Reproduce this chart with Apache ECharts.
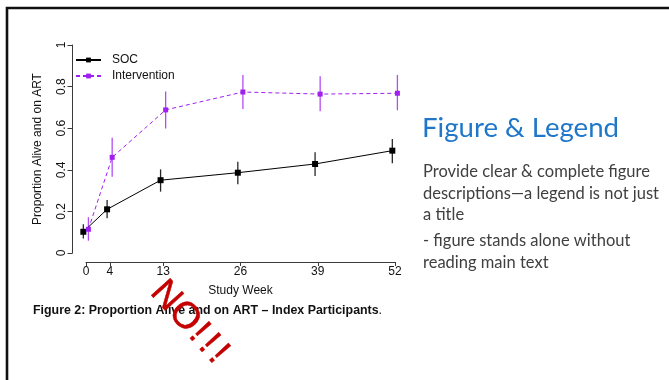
<!DOCTYPE html>
<html>
<head>
<meta charset="utf-8">
<script src="https://cdn.jsdelivr.net/npm/echarts@6/dist/echarts.min.js"></script>
<style>
html,body{margin:0;padding:0;background:#fff;}
#chart{width:669px;height:380px;}
</style>
</head>
<body>
<div id="chart"></div>
<script>
// ---- data ----
const weeks = [0, 4, 13, 26, 39, 52];
const weekTicks = [0, 4, 13, 26, 39, 52];
const yTicks = [0, 0.2, 0.4, 0.6, 0.8, 1];
const socMean = [0.102, 0.210, 0.350, 0.386, 0.428, 0.492];
const socLow  = [0.070, 0.167, 0.295, 0.330, 0.370, 0.431];
const socHigh = [0.138, 0.255, 0.402, 0.439, 0.484, 0.548];
const intMean = [0.114, 0.460, 0.688, 0.774, 0.764, 0.768];
const intLow  = [0.059, 0.367, 0.598, 0.692, 0.681, 0.686];
const intHigh = [0.172, 0.554, 0.777, 0.856, 0.850, 0.856];
const seriesNames = ['SOC', 'Intervention'];
const dodge = 0.45; // horizontal jitter between groups (weeks)

const captionBold = 'Figure 2: Proportion Alive and on ART \u2013 Index Participants';
const sideTitle = 'Figure & Legend';
const sideLines = [
  'Provide clear & complete figure',
  'descriptions\u2014a legend is not just',
  'a title'
];
const sideLines2 = [
  '- figure stands alone without',
  'reading main text'
];

const socColor = '#000000';
const intColor = '#A020F0';

const socPts = weeks.map((w, i) => [w - dodge, socMean[i]]);
const intPts = weeks.map((w, i) => [w + dodge * 0.9, intMean[i]]);
const socBars = weeks.map((w, i) => [w - dodge, socLow[i], socHigh[i]]);
const intBars = weeks.map((w, i) => [w + dodge * 0.9, intLow[i], intHigh[i]]);

function errRender(color, opacity) {
  return function (params, api) {
    const p1 = api.coord([api.value(0), api.value(1)]);
    const p2 = api.coord([api.value(0), api.value(2)]);
    return {
      type: 'line',
      shape: { x1: p1[0], y1: p1[1], x2: p2[0], y2: p2[1] },
      style: { stroke: color, lineWidth: 1.3, opacity: opacity }
    };
  };
}

const chart = echarts.init(document.getElementById('chart'), null, { renderer: 'canvas' });
const axisColor = '#3a3a3a';
const font = 'Liberation Sans, Arial, sans-serif';
const sideFont = 'Lato, "Open Sans", sans-serif';
const noAngle = -48 * Math.PI / 180;

const option = {
  backgroundColor: '#ffffff',
  animation: false,
  grid: { left: 86, right: 669 - 395, top: 45, bottom: 380 - 253, containLabel: false },
  legend: {
    orient: 'vertical',
    left: 75,
    top: 54,
    itemWidth: 25,
    itemHeight: 6,
    itemGap: 4,
    data: seriesNames,
    textStyle: { fontFamily: font, fontSize: 12, color: '#111', padding: [0, 0, 0, 6] },
    padding: 0
  },
  xAxis: {
    type: 'value',
    min: 0,
    max: 52,
    offset: 9,
    name: 'Study Week',
    nameLocation: 'middle',
    nameGap: 23,
    nameTextStyle: { fontFamily: font, fontSize: 12, color: '#111' },
    axisLine: { show: true, onZero: false, lineStyle: { color: axisColor, width: 1 } },
    axisTick: { show: true, length: 4, customValues: weekTicks, lineStyle: { color: axisColor } },
    axisLabel: { customValues: weekTicks, fontFamily: font, fontSize: 12, color: '#111', margin: 4, showMinLabel: true, showMaxLabel: true },
    splitLine: { show: false }
  },
  yAxis: {
    type: 'value',
    min: 0,
    max: 1,
    interval: 0.2,
    offset: 13.5,
    name: 'Proportion Alive and on ART',
    nameLocation: 'middle',
    nameGap: 29,
    nameRotate: 90,
    nameTextStyle: { fontFamily: font, fontSize: 12, color: '#111' },
    axisLine: { show: true, onZero: false, lineStyle: { color: axisColor, width: 1 } },
    axisTick: { show: true, length: 5, lineStyle: { color: axisColor } },
    axisLabel: { rotate: 90, fontFamily: font, fontSize: 12, color: '#111', margin: 5,
      customValues: yTicks },
    splitLine: { show: false }
  },
  series: [
    {
      name: 'SOC',
      type: 'line',
      data: socPts,
      clip: false,
      symbol: 'rect',
      symbolSize: 6,
      itemStyle: { color: socColor },
      lineStyle: { color: socColor, width: 1, type: 'solid' },
      z: 3
    },
    {
      name: 'Intervention',
      type: 'line',
      data: intPts,
      clip: false,
      symbol: 'rect',
      symbolSize: 5,
      itemStyle: { color: intColor },
      lineStyle: { color: intColor, width: 1, type: [4, 3] },
      z: 3
    },
    {
      type: 'custom',
      name: 'SOC CI',
      data: socBars,
      clip: false,
      renderItem: errRender(socColor, 0.85),
      z: 2
    },
    {
      type: 'custom',
      name: 'Intervention CI',
      data: intBars,
      clip: false,
      renderItem: errRender(intColor, 0.8),
      z: 2
    }
  ],
  graphic: [
    {
      type: 'polyline',
      shape: { points: [[7, 380], [7, 8], [669, 8]] },
      style: { stroke: '#111', lineWidth: 2.6, fill: null },
      silent: true
    },
    {
      type: 'text',
      left: 33,
      top: 305,
      style: {
        text: '{b|' + captionBold + '}{n|.}',
        rich: {
          b: { fontFamily: font, fontSize: 12.4, fontWeight: 'bold', fill: '#111' },
          n: { fontFamily: font, fontSize: 12.4, fill: '#111' }
        }
      }
    },
    {
      type: 'text',
      left: 422,
      top: 114,
      style: { text: sideTitle, fontFamily: sideFont, fontSize: 27.6, fill: '#1F77C9' }
    },
    {
      type: 'text',
      left: 423,
      top: 161.5,
      style: { text: sideLines.join('\n'), fontFamily: sideFont, fontSize: 16.5, lineHeight: 21.3, fill: '#404040' }
    },
    {
      type: 'text',
      left: 423,
      top: 230.5,
      style: { text: sideLines2.join('\n'), fontFamily: sideFont, fontSize: 16.5, lineHeight: 21.3, fill: '#404040' }
    },
    {
      type: 'text',
      x: 190,
      y: 323,
      rotation: noAngle,
      style: {
        text: '{a|NO}{e|!}{e|!}{e|!}',
        align: 'center',
        verticalAlign: 'middle',
        rich: {
          a: { fontFamily: font, fontSize: 37, fill: '#C40000', stroke: '#C40000', lineWidth: 0.5 },
          e: { fontFamily: font, fontSize: 37, fill: '#C40000', stroke: '#C40000', lineWidth: 0.5, width: 14.5, align: 'center' }
        }
      },
      z: 100
    }
  ]
};
chart.setOption(option);
</script>
</body>
</html>
